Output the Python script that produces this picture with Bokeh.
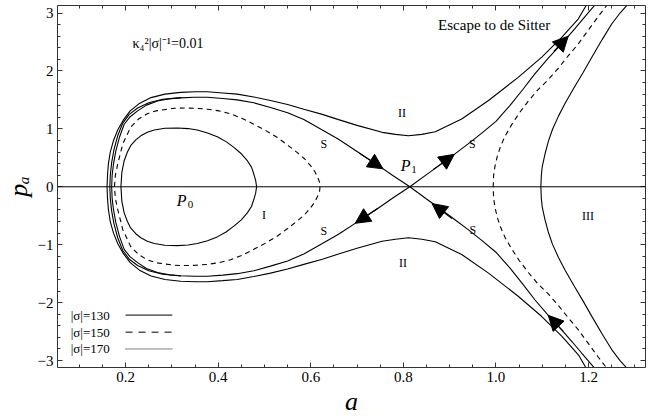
import numpy as np
from bokeh.plotting import figure
from bokeh.models import (Range1d, LinearAxis, FixedTicker, Arrow, NormalHead,
                          ColumnDataSource, Span)
from bokeh.core.properties import value
from bokeh.embed import file_html
from bokeh.resources import INLINE

# ---------------- data (upper halves p >= 0; portrait is symmetric in p -> -p) ----------------
# inner closed orbit around P0 (|sigma|=130, solid)
inner_a = [0.190, 0.192, 0.197, 0.204, 0.211, 0.222, 0.233, 0.247, 0.262, 0.285, 0.312,
           0.335, 0.355, 0.377, 0.398, 0.417, 0.434, 0.450, 0.463, 0.472, 0.477, 0.481, 0.483]
inner_p = [0.00, 0.25, 0.45, 0.60, 0.71, 0.81, 0.88, 0.94, 0.98, 1.01, 1.015,
           1.005, 0.98, 0.93, 0.865, 0.78, 0.68, 0.57, 0.45, 0.34, 0.22, 0.11, 0.00]

# dashed closed orbit (|sigma|=150)
dloop_a = [0.176, 0.178, 0.183, 0.194, 0.211, 0.228, 0.247, 0.265, 0.283, 0.305, 0.327, 0.352,
           0.377, 0.402, 0.427, 0.452, 0.477, 0.503, 0.528, 0.550, 0.571, 0.587, 0.600, 0.609,
           0.615, 0.619, 0.620]
dloop_p = [0.00, 0.20, 0.39, 0.74, 1.03, 1.17, 1.26, 1.31, 1.33, 1.355, 1.36, 1.355,
           1.34, 1.31, 1.26, 1.18, 1.08, 0.97, 0.85, 0.72, 0.59, 0.48, 0.36, 0.26,
           0.16, 0.08, 0.00]

# dashed open branch on the right
dright_a = [0.994, 0.995, 0.998, 1.003, 1.010, 1.020, 1.033, 1.050, 1.070, 1.090, 1.113,
            1.135, 1.155, 1.178, 1.199, 1.220, 1.242]
dright_p = [0.00, 0.20, 0.36, 0.53, 0.70, 0.88, 1.06, 1.27, 1.48, 1.67, 1.85,
            2.05, 2.25, 2.47, 2.70, 2.93, 3.16]

# separatrix S: left loop (left turning point -> P1) and right branch (P1 -> top)
sepL_a = [0.170, 0.171, 0.174, 0.179, 0.187, 0.197, 0.210, 0.226, 0.245, 0.269, 0.295, 0.319,
          0.348, 0.377, 0.410, 0.441, 0.477, 0.513, 0.550, 0.585, 0.625, 0.660, 0.700, 0.740,
          0.778, 0.814]
sepL_p = [0.00, 0.20, 0.40, 0.62, 0.86, 1.08, 1.21, 1.31, 1.41, 1.48, 1.52, 1.535,
          1.545, 1.545, 1.525, 1.50, 1.45, 1.37, 1.28, 1.16, 0.98, 0.82, 0.61, 0.40,
          0.19, 0.00]
sepR_a = [0.814, 0.850, 0.883, 0.910, 0.940, 0.970, 1.000, 1.030, 1.058, 1.084, 1.113,
          1.142, 1.165, 1.185, 1.200, 1.216]
sepR_p = [0.00, 0.21, 0.40, 0.56, 0.74, 0.93, 1.13, 1.40, 1.68, 1.95, 2.22,
          2.47, 2.68, 2.87, 3.01, 3.16]

# additional solid curve hugging the separatrix on the left
extra_a = [0.166, 0.167, 0.170, 0.175, 0.183, 0.194, 0.208, 0.226, 0.250, 0.280, 0.320]
extra_p = [0.00, 0.20, 0.42, 0.64, 0.88, 1.10, 1.25, 1.36, 1.45, 1.51, 1.54]

# outer curve bounding region II
outer_a = [0.160, 0.161, 0.163, 0.167, 0.174, 0.183, 0.195, 0.210, 0.230, 0.255, 0.285, 0.319,
           0.350, 0.377, 0.410, 0.441, 0.477, 0.513, 0.550, 0.585, 0.625, 0.660, 0.700, 0.754,
           0.783, 0.811, 0.840, 0.869, 0.926, 0.984, 1.048, 1.099, 1.142, 1.178, 1.197]
outer_p = [0.00, 0.20, 0.40, 0.60, 0.80, 0.98, 1.15, 1.31, 1.44, 1.54, 1.60, 1.63,
           1.64, 1.64, 1.62, 1.60, 1.55, 1.49, 1.42, 1.34, 1.25, 1.16, 1.06, 0.94,
           0.905, 0.88, 0.905, 0.95, 1.17, 1.49, 1.89, 2.24, 2.58, 2.90, 3.16]

# rightmost solid curve (region III)
right_a = [1.097, 1.098, 1.100, 1.106, 1.113, 1.122, 1.135, 1.150, 1.168, 1.188, 1.208,
           1.230, 1.250, 1.268, 1.286]
right_p = [0.00, 0.20, 0.35, 0.57, 0.78, 0.99, 1.22, 1.45, 1.70, 1.97, 2.25,
           2.55, 2.81, 3.00, 3.16]

# flow arrows on the separatrix (tail -> tip)
arrow_tail_a = [0.705, 0.865, 1.125, 0.745, 0.905, 1.145]
arrow_tail_p = [0.58, 0.30, 2.34, -0.37, -0.55, -2.49]
arrow_tip_a = [0.756, 0.910, 1.156, 0.696, 0.862, 1.113]
arrow_tip_p = [0.31, 0.56, 2.60, -0.63, -0.29, -2.22]

region_labels = ["II", "II", "III", "I", "S", "S", "S", "S"]
region_a = [0.797, 0.799, 1.199, 0.499, 0.628, 0.949, 0.628, 0.950]
region_p = [1.28, -1.31, -0.50, -0.49, 0.74, 0.74, -0.76, -0.75]

legend_labels = ["|σ|=130", "|σ|=150", "|σ|=170"]
legend_dash = ["solid", "7 6", "1 1"]

x_ticks = [0.2, 0.4, 0.6, 0.8, 1.0, 1.2]
x_tick_labels = ["0.2", "0.4", "0.6", "0.8", "1.0", "1.2"]
y_ticks = [-3, -2, -1, 0, 1, 2, 3]
y_tick_labels = ["\u22123", "\u22122", "\u22121", "0", "1", "2", "3"]

X_RANGE = (0.053, 1.323)
Y_RANGE = (-3.12, 3.13)
SERIF = "Liberation Serif"


def closed(a, p):
    return list(a) + list(a[::-1]), list(p) + [-v for v in p[::-1]]


def branch(a, p):
    return list(a[::-1]) + list(a), list(p[::-1]) + [-v for v in p]


p = figure(width=660, height=419, x_range=Range1d(*X_RANGE), y_range=Range1d(*Y_RANGE),
           output_backend="svg", toolbar_location=None,
           min_border_left=55, min_border_right=15, min_border_top=5, min_border_bottom=52,
           background_fill_color="white", border_fill_color="white")
p.xgrid.visible = False
p.ygrid.visible = False
p.outline_line_color = None

# ---- axes ----
x_minor = list(np.round(np.arange(0.05, 1.33, 0.05), 3))
y_minor = list(np.round(np.arange(-3.2, 3.21, 0.2), 3))
xt = FixedTicker(ticks=x_ticks, minor_ticks=x_minor)
yt = FixedTicker(ticks=y_ticks, minor_ticks=y_minor)

top = LinearAxis(ticker=xt)
right = LinearAxis(ticker=yt)
p.add_layout(top, "above")
p.add_layout(right, "right")
p.below[0].ticker = xt
p.left[0].ticker = yt

for ax in [p.below[0], p.left[0], top, right]:
    ax.axis_line_color = "#333333"
    ax.major_tick_line_color = "#333333"
    ax.minor_tick_line_color = "#333333"
    ax.major_tick_in = 5
    ax.major_tick_out = 0
    ax.minor_tick_in = 3
    ax.minor_tick_out = 0
    ax.major_label_text_font = SERIF
    ax.major_label_text_font_size = "15px"
    ax.major_label_text_color = "black"
    ax.major_label_standoff = 4

p.below[0].major_label_overrides = {v: s for v, s in zip(x_ticks, x_tick_labels)}
p.left[0].major_label_overrides = {v: s for v, s in zip(y_ticks, y_tick_labels)}
top.major_label_overrides = {v: "" for v in x_ticks}
right.major_label_overrides = {v: "" for v in y_ticks}
for ax in [top, right]:
    ax.major_label_standoff = 0

# axis titles
p.below[0].axis_label = "a"
p.left[0].axis_label = "p\u2090"
for ax in [p.below[0], p.left[0]]:
    ax.axis_label_text_font = SERIF
    ax.axis_label_text_font_style = "italic"
    ax.axis_label_text_font_size = "26px"
    ax.axis_label_text_color = "black"
    ax.axis_label_standoff = 2

# zero line
p.add_layout(Span(location=0, dimension="width", line_color="black", line_width=1))

# ---- curves ----
LW = 1.1
a, q = closed(inner_a, inner_p)
p.line(a, q, line_color="black", line_width=LW)
a, q = closed(dloop_a, dloop_p)
p.line(a, q, line_color="black", line_width=LW, line_dash="5 4")
a, q = branch(dright_a, dright_p)
p.line(a, q, line_color="black", line_width=LW, line_dash="5 4")
a, q = branch(outer_a, outer_p)
p.line(a, q, line_color="black", line_width=LW)
a, q = branch(right_a, right_p)
p.line(a, q, line_color="black", line_width=LW)
a, q = branch(extra_a, extra_p)
p.line(a, q, line_color="black", line_width=LW)
sep_a = sepR_a[::-1] + sepL_a[::-1] + sepL_a + sepR_a
sep_p = sepR_p[::-1] + [-v for v in sepL_p[::-1]] + sepL_p + [-v for v in sepR_p]
p.line(sep_a, sep_p, line_color="black", line_width=LW)

# arrows
asrc = ColumnDataSource(dict(x0=arrow_tail_a, y0=arrow_tail_p, x1=arrow_tip_a, y1=arrow_tip_p))
p.add_layout(Arrow(end=NormalHead(size=15, fill_color="black", line_color="black", line_width=1),
                   x_start="x0", y_start="y0", x_end="x1", y_end="y1", source=asrc,
                   line_color="black", line_width=LW))

# region labels
p.text(x=region_a, y=region_p, text=region_labels, text_font=value(SERIF),
       text_font_size="12px", text_align="center", text_baseline="middle", text_color="black")

# P0 and P1
p.text(x=[0.321, 0.805], y=[-0.24, 0.36], text=["P", "P"], text_font=value(SERIF),
       text_font_style="italic", text_font_size="16px", text_align="center",
       text_baseline="middle", text_color="black")
p.text(x=[0.340, 0.823], y=[-0.30, 0.30], text=["0", "1"], text_font=value(SERIF),
       text_font_size="11px", text_align="center", text_baseline="middle", text_color="black")

# annotations
p.text(x=[0.215], y=[2.474], text=["\u03ba\u2084\u00b2|\u03c3|\u207b\u00b9=0.01"],
       text_font=value(SERIF), text_font_size="14px", text_align="left",
       text_baseline="middle", text_color="black")
p.text(x=[0.875], y=[2.785], text=["Escape to de Sitter"], text_font=value(SERIF),
       text_font_size="15px", text_align="left", text_baseline="middle", text_color="black")

# legend (manual, inside plot)
leg_y = [-2.215, -2.51, -2.80]
for lbl, dash, yy in zip(legend_labels, legend_dash, leg_y):
    p.segment(x0=[0.200], y0=[yy], x1=[0.301], y1=[yy], line_color="black",
              line_width=1, line_dash=dash)
p.text(x=[0.0815] * 3, y=leg_y, text=legend_labels, text_font=value(SERIF),
       text_font_size="13px", text_align="left", text_baseline="middle", text_color="black")

open("out.html", "w").write(file_html(p, INLINE))
